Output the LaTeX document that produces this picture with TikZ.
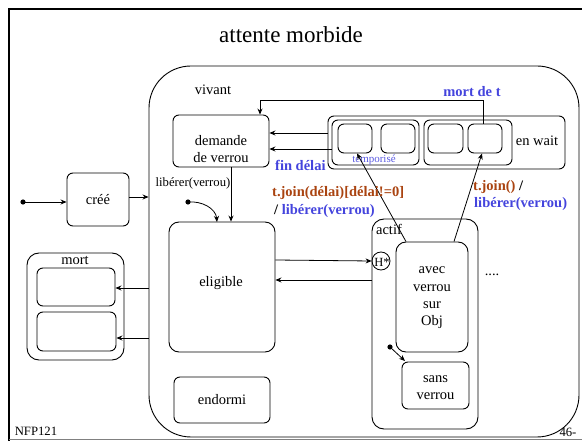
\documentclass[tikz,border=0pt]{standalone}
\usepackage{fontspec}
\setmainfont{Liberation Serif}
\usetikzlibrary{arrows.meta}
\definecolor{lblue}{RGB}{68,68,221}
\definecolor{lbrown}{RGB}{170,68,17}
\definecolor{tblue}{RGB}{90,90,225}
\tikzset{
  every node/.style={font=\fontsize{14.5}{17}\selectfont, inner sep=0pt},
  box/.style={draw, line width=0.9pt, rounded corners=6pt},
  arr/.style={-{Stealth[length=6pt,width=5pt]}, line width=0.8pt},
  plain/.style={line width=0.8pt},
  lab/.style={font=\fontsize{14.5}{17}\selectfont\bfseries},
  small/.style={font=\fontsize{12.7}{15}\selectfont},
}
\begin{document}
\begin{tikzpicture}[x=1pt,y=-1pt]
\useasboundingbox (0,0) rectangle (582,441);
% slide frame
\draw[line width=2.6pt] (9,441) -- (9,9) -- (582,9);
\draw[line width=0.7pt, gray] (9,439.5) -- (582,439.5);
\node[font=\fontsize{23}{27}\selectfont] (title) at (291,35) {attente morbide};
\node[small] (nfp) at (36,431) {NFP121};
\node[small] (pg) at (568,432) {46-};

% vivant
\node[draw, line width=0.9pt, rounded corners=42pt, minimum width=430pt, minimum height=371pt] (viv) at (364,251.5) {};
\node (vivl) at (213,90) {vivant};

% demande de verrou
\node[box, minimum width=96pt, minimum height=52pt] (dem) at (221,141) {};
\node[align=center] (demT) at (221,149) {demande\\de verrou};

% en wait
\node[box, minimum width=237pt, minimum height=53pt] (wait) at (446.5,142.5) {};
\node[box, minimum width=87pt, minimum height=45pt] (g1) at (375.5,142.5) {};
\node[box, minimum width=88pt, minimum height=45pt] (g2) at (468,142.5) {};
\node[box, minimum width=34pt, minimum height=29pt] (b1) at (355,138.5) {};
\node[box, minimum width=34pt, minimum height=29pt] (b2) at (398,138.5) {};
\node[box, minimum width=35pt, minimum height=29pt] (b3) at (445.5,138.5) {};
\node[box, minimum width=34pt, minimum height=29pt] (b4) at (485,138.5) {};
\node (waitl) at (537,141) {en wait};
\node[font=\fontsize{11}{13}\selectfont, text=tblue] (tempo) at (374,160) {temporisé};

% cree
\node[box, minimum width=62pt, minimum height=53pt] (cree) at (98,199.5) {créé};
\coordinate (i1) at (23,202);
\fill (i1) circle (2.6pt);
\draw[arr] (i1) -- (cree.west |- i1);
\draw[arr] (cree.east |- 0,197) -- (viv.west |- 0,197);

% eligible
\node[box, rounded corners=10pt, minimum width=106pt, minimum height=130pt] (elig) at (222,287) {};
\node (eligT) at (221,283) {eligible};
\coordinate (c231) at (231,0);
\draw[arr] (dem.south -| c231) -- (elig.north -| c231);
\node[small] (libl) at (193,183) {libérer(verrou)};
\coordinate (i2) at (188,202);
\fill (i2) circle (2.6pt);
\coordinate (e2) at (217,222);
\draw[arr] (i2) to[out=5,in=95] (e2);

% endormi
\node[box, minimum width=96pt, minimum height=46pt] (endo) at (222,400) {endormi};

% wait -> demande
\coordinate (y133) at (0,133);
\coordinate (y149) at (0,149);
\draw[arr] (wait.west |- y133) -- (dem.east |- y133);
\draw[arr] (g1.west |- y149) -- (dem.east |- y149);
\node[lab, text=lblue, anchor=west] (find) at (275,165) {fin délai};

% mort de t
\coordinate (m1) at (483,100);
\coordinate (m2) at (260,100);
\draw[arr] (b4.north -| m1) -- (m1) -- (m2) -- (dem.north -| m2);
\node[lab, text=lblue] (mortl) at (472,92) {mort de t};

% actif
\node[box, rounded corners=12pt, minimum width=106pt, minimum height=210pt] (actif) at (425,324) {};
\node (actifl) at (389,229) {actif};
\node[draw, circle, line width=0.8pt, minimum size=18pt] (hist) at (381,261) {};
\node[font=\fontsize{12.5}{14}\selectfont] (histT) at (382,262) {H*};
\node[box, rounded corners=10pt, minimum width=72pt, minimum height=110pt] (avec) at (432,297) {};
\node[align=center, font=\fontsize{14.5}{17.3}\selectfont] (avecT) at (432,298) {avec\\verrou\\sur\\Obj};
\node[box, minimum width=67pt, minimum height=47pt] (sans) at (435.5,385.5) {};
\node[align=center] (sansT) at (435.5,388) {sans\\verrou};
\coordinate (i3) at (390,347);
\fill (i3) circle (2.6pt);
\coordinate (e3) at (405,361);
\draw[arr] (i3) -- (e3);
\node (dots) at (492,275) {....};

% eligible <-> actif
\coordinate (y260) at (0,260);
\coordinate (y280) at (0,280);
\draw[arr] (elig.east |- y260) -- (hist.west);
\draw[arr] (actif.west |- y280) -- (elig.east |- y280);

% joins
\coordinate (a1) at (406,0);
\coordinate (t1) at (357,0);
\coordinate (a2) at (454,0);
\coordinate (t2) at (482,0);
\draw[arr] (avec.north -| a1) -- (b1.south -| t1);
\draw[arr] (avec.north -| a2) -- (b4.south -| t2);
\node[lab, text=lbrown, anchor=west] (j1) at (272,193) {t.join(délai)[délai!=0]};
\node[lab, anchor=west] (j1b) at (274,211) {/ \textcolor{lblue}{libérer(verrou)}};
\node[lab, anchor=west] (j2) at (473,187) {\textcolor{lbrown}{t.join()} /};
\node[lab, text=lblue, anchor=west] (j2b) at (474,204) {libérer(verrou)};

% mort
\node[box, rounded corners=12pt, minimum width=97pt, minimum height=107pt] (mort) at (75.5,306.5) {};
\node (mortT) at (75,260) {mort};
\node[box, minimum width=78pt, minimum height=38pt] (m1b) at (76,287) {};
\node[box, minimum width=79pt, minimum height=39pt] (m2b) at (76.5,331.5) {};
\coordinate (y288) at (0,288);
\coordinate (y338) at (0,338);
\draw[arr] (viv.west |- y288) -- (m1b.east |- y288);
\draw[arr] (viv.west |- y338) -- (m2b.east |- y338);
\end{tikzpicture}
\end{document}
